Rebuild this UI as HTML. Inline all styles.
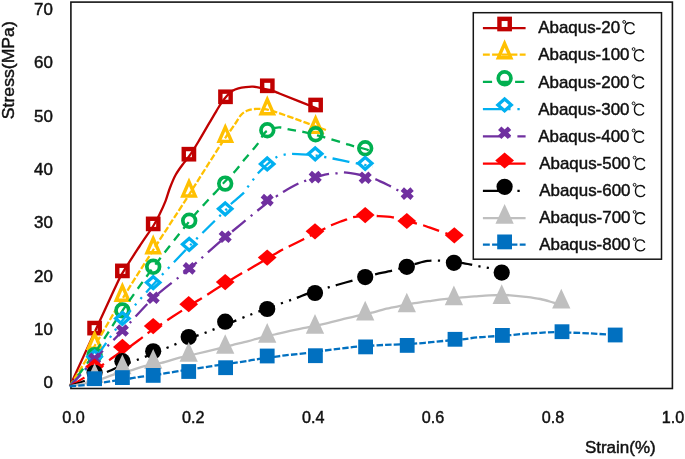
<!DOCTYPE html>
<html><head><meta charset="utf-8"><title>Stress-Strain</title>
<style>html,body{margin:0;padding:0;background:#fff;}body{width:685px;height:459px;overflow:hidden;font-family:"Liberation Sans",sans-serif;}</style></head>
<body>
<div style="will-change:transform;opacity:0.999;filter:blur(0.35px)">
<svg width="685" height="459" viewBox="0 0 685 459" style="display:block;font-family:'Liberation Sans',sans-serif">
<rect width="685" height="459" fill="#fff"/>
<rect x="70.9" y="2.1" width="601.5" height="386.4" fill="none" stroke="#151515" stroke-width="1.6"/>
<path d="M69.85,386.20 C74.12,376.88 88.14,346.33 95.50,330.30 C102.86,314.27 109.52,299.52 114.00,290.00 C118.48,280.48 118.17,280.45 122.40,273.20 C126.63,265.95 134.27,254.37 139.40,246.50 C144.53,238.63 149.83,231.38 153.20,226.00 C156.57,220.62 157.55,218.35 159.60,214.20 C161.65,210.05 163.78,205.47 165.50,201.10 C167.22,196.73 168.20,192.38 169.90,188.00 C171.60,183.62 173.40,178.95 175.70,174.80 C178.00,170.65 181.48,166.15 183.70,163.10 C185.92,160.05 186.58,160.02 189.00,156.50 C191.42,152.98 194.83,147.55 198.20,142.00 C201.57,136.45 206.15,128.40 209.20,123.20 C212.25,118.00 214.43,114.22 216.50,110.80 C218.57,107.38 219.85,105.20 221.60,102.70 C223.35,100.20 225.17,97.78 227.00,95.80 C228.83,93.82 230.70,92.03 232.60,90.80 C234.50,89.57 236.22,89.02 238.40,88.40 C240.58,87.78 243.27,87.38 245.70,87.10 C248.13,86.82 250.57,86.58 253.00,86.70 C255.43,86.82 257.92,87.32 260.30,87.80 C262.68,88.28 264.98,89.00 267.30,89.60 C269.62,90.20 272.08,90.72 274.20,91.40 C276.32,92.08 272.53,90.72 280.00,93.70 C287.47,96.68 312.50,106.70 319.00,109.30" fill="none" stroke="#C00000" stroke-width="2.3"/>
<rect x="89.45" y="322.95" width="10.3" height="10.3" fill="none" stroke="#C00000" stroke-width="4.4"/>
<rect x="117.25" y="265.75" width="10.3" height="10.3" fill="none" stroke="#C00000" stroke-width="4.4"/>
<rect x="148.05" y="218.75" width="10.3" height="10.3" fill="none" stroke="#C00000" stroke-width="4.4"/>
<rect x="183.75" y="149.05" width="10.3" height="10.3" fill="none" stroke="#C00000" stroke-width="4.4"/>
<rect x="220.35" y="91.65" width="10.3" height="10.3" fill="none" stroke="#C00000" stroke-width="4.4"/>
<rect x="262.15" y="80.65" width="10.3" height="10.3" fill="none" stroke="#C00000" stroke-width="4.4"/>
<rect x="310.45" y="99.85" width="10.3" height="10.3" fill="none" stroke="#C00000" stroke-width="4.4"/>
<path d="M69.85,386.20 C73.97,379.50 85.84,360.57 94.60,346.00 C103.36,331.43 112.63,314.80 122.40,298.80 C132.17,282.80 142.62,266.53 153.20,250.00 C163.78,233.47 177.53,212.62 185.90,199.60 C194.27,186.58 197.33,181.45 203.40,171.90 C209.47,162.35 217.08,150.20 222.30,142.30 C227.52,134.40 231.58,129.05 234.70,124.50 C237.82,119.95 238.95,117.28 241.00,115.00 C243.05,112.72 244.67,111.80 247.00,110.80 C249.33,109.80 251.57,109.18 255.00,109.00 C258.43,108.82 261.93,108.43 267.60,109.70 C273.27,110.97 279.12,113.15 289.00,116.60 C298.88,120.05 320.58,128.10 326.90,130.40" fill="none" stroke="#FFC000" stroke-width="2.3" stroke-dasharray="6.45,2.15"/>
<polygon points="94.60,333.95 88.35,348.20 100.85,348.20" fill="none" stroke="#FFC000" stroke-width="3.4" stroke-linejoin="miter" stroke-miterlimit="10"/>
<polygon points="122.40,285.95 116.15,300.20 128.65,300.20" fill="none" stroke="#FFC000" stroke-width="3.4" stroke-linejoin="miter" stroke-miterlimit="10"/>
<polygon points="153.20,238.55 146.95,252.80 159.45,252.80" fill="none" stroke="#FFC000" stroke-width="3.4" stroke-linejoin="miter" stroke-miterlimit="10"/>
<polygon points="189.00,181.75 182.75,196.00 195.25,196.00" fill="none" stroke="#FFC000" stroke-width="3.4" stroke-linejoin="miter" stroke-miterlimit="10"/>
<polygon points="225.30,127.15 219.05,141.40 231.55,141.40" fill="none" stroke="#FFC000" stroke-width="3.4" stroke-linejoin="miter" stroke-miterlimit="10"/>
<polygon points="267.30,99.45 261.05,113.70 273.55,113.70" fill="none" stroke="#FFC000" stroke-width="3.4" stroke-linejoin="miter" stroke-miterlimit="10"/>
<polygon points="315.60,118.15 309.35,132.40 321.85,132.40" fill="none" stroke="#FFC000" stroke-width="3.4" stroke-linejoin="miter" stroke-miterlimit="10"/>
<path d="M69.85,386.20 C73.97,380.68 85.84,365.67 94.60,353.10 C103.36,340.53 112.63,325.07 122.40,310.80 C132.17,296.53 142.07,282.38 153.20,267.50 C164.33,252.62 180.35,232.42 189.20,221.50 C198.05,210.58 201.75,207.05 206.30,202.00 C210.85,196.95 213.47,194.53 216.50,191.20 C219.53,187.87 221.33,185.40 224.50,182.00 C227.67,178.60 232.22,174.50 235.50,170.80 C238.78,167.10 241.28,163.33 244.20,159.80 C247.12,156.27 250.57,152.52 253.00,149.60 C255.43,146.68 257.10,144.77 258.80,142.30 C260.50,139.83 261.77,136.75 263.20,134.80 C264.63,132.85 265.37,131.77 267.40,130.60 C269.43,129.43 273.13,128.32 275.40,127.80 C277.67,127.28 278.98,127.30 281.00,127.50 C283.02,127.70 284.83,128.43 287.50,129.00 C290.17,129.57 293.83,130.30 297.00,130.90 C300.17,131.50 301.88,131.52 306.50,132.60 C311.12,133.68 318.62,135.70 324.70,137.40 C330.78,139.10 338.00,141.28 343.00,142.80 C348.00,144.32 351.05,145.47 354.70,146.50 C358.35,147.53 362.35,148.27 364.90,149.00 C367.45,149.73 369.15,150.58 370.00,150.90" fill="none" stroke="#00B050" stroke-width="2.3" stroke-dasharray="8.6,6.45" stroke-dashoffset="1.61"/>
<circle cx="94.60" cy="355.10" r="6.35" fill="none" stroke="#00B050" stroke-width="3.7"/>
<circle cx="122.40" cy="310.40" r="6.35" fill="none" stroke="#00B050" stroke-width="3.7"/>
<circle cx="153.20" cy="266.80" r="6.35" fill="none" stroke="#00B050" stroke-width="3.7"/>
<circle cx="189.20" cy="220.80" r="6.35" fill="none" stroke="#00B050" stroke-width="3.7"/>
<circle cx="225.20" cy="183.60" r="6.35" fill="none" stroke="#00B050" stroke-width="3.7"/>
<circle cx="267.30" cy="130.30" r="6.35" fill="none" stroke="#00B050" stroke-width="3.7"/>
<circle cx="315.60" cy="134.20" r="6.35" fill="none" stroke="#00B050" stroke-width="3.7"/>
<circle cx="365.20" cy="148.30" r="6.35" fill="none" stroke="#00B050" stroke-width="3.7"/>
<path d="M69.85,386.20 C73.97,381.63 85.84,369.75 94.60,358.80 C103.36,347.85 112.63,332.87 122.40,320.50 C132.17,308.13 142.07,296.97 153.20,284.60 C164.33,272.23 177.20,258.65 189.20,246.30 C201.20,233.95 218.15,217.63 225.20,210.50 C232.25,203.37 228.38,206.48 231.50,203.50 C234.62,200.52 241.12,195.45 243.90,192.60 C246.68,189.75 246.62,188.60 248.20,186.40 C249.78,184.20 251.68,181.67 253.40,179.40 C255.12,177.13 256.68,174.87 258.50,172.80 C260.32,170.73 262.37,168.82 264.30,167.00 C266.23,165.18 268.08,163.53 270.10,161.90 C272.12,160.27 274.00,158.42 276.40,157.20 C278.80,155.98 281.90,155.15 284.50,154.60 C287.10,154.05 288.18,153.90 292.00,153.90 C295.82,153.90 303.55,154.37 307.40,154.60 C311.25,154.83 312.22,154.90 315.10,155.30 C317.98,155.70 321.75,156.47 324.70,157.00 C327.65,157.53 328.78,157.70 332.80,158.50 C336.82,159.30 343.45,160.72 348.80,161.80 C354.15,162.88 360.90,164.18 364.90,165.00 C368.90,165.82 371.48,166.42 372.80,166.70" fill="none" stroke="#00B0F0" stroke-width="2.3" stroke-dasharray="17.2,6.45,2.15,6.45,2.15,6.45" stroke-dashoffset="1.40"/>
<polygon points="94.60,350.90 101.30,356.80 94.60,362.70 87.90,356.80" fill="none" stroke="#00B0F0" stroke-width="3.3"/>
<polygon points="122.40,312.60 129.10,318.50 122.40,324.40 115.70,318.50" fill="none" stroke="#00B0F0" stroke-width="3.3"/>
<polygon points="153.20,276.70 159.90,282.60 153.20,288.50 146.50,282.60" fill="none" stroke="#00B0F0" stroke-width="3.3"/>
<polygon points="189.20,238.40 195.90,244.30 189.20,250.20 182.50,244.30" fill="none" stroke="#00B0F0" stroke-width="3.3"/>
<polygon points="225.20,202.90 231.90,208.80 225.20,214.70 218.50,208.80" fill="none" stroke="#00B0F0" stroke-width="3.3"/>
<polygon points="267.20,158.00 273.90,163.90 267.20,169.80 260.50,163.90" fill="none" stroke="#00B0F0" stroke-width="3.3"/>
<polygon points="315.20,147.90 321.90,153.80 315.20,159.70 308.50,153.80" fill="none" stroke="#00B0F0" stroke-width="3.3"/>
<polygon points="365.20,157.40 371.90,163.30 365.20,169.20 358.50,163.30" fill="none" stroke="#00B0F0" stroke-width="3.3"/>
<path d="M69.85,386.20 C73.97,381.72 85.84,368.50 94.60,359.30 C103.36,350.10 112.63,341.18 122.40,331.00 C132.17,320.82 142.07,308.55 153.20,298.20 C164.33,287.85 177.20,279.05 189.20,268.90 C201.20,258.75 212.20,248.32 225.20,237.30 C238.20,226.28 258.57,209.70 267.20,202.80 C275.83,195.90 274.20,197.80 277.00,195.90 C279.80,194.00 280.52,193.42 284.00,191.40 C287.48,189.38 294.37,185.55 297.90,183.80 C301.43,182.05 302.33,181.93 305.20,180.90 C308.07,179.87 312.55,178.45 315.10,177.60 C317.65,176.75 318.13,176.42 320.50,175.80 C322.87,175.18 326.70,174.32 329.30,173.90 C331.90,173.48 333.67,173.55 336.10,173.30 C338.53,173.05 339.80,172.12 343.90,172.40 C348.00,172.68 357.18,174.33 360.70,175.00 C364.22,175.67 362.57,175.72 365.00,176.40 C367.43,177.08 371.03,177.43 375.30,179.10 C379.57,180.77 386.95,184.60 390.60,186.40 C394.25,188.20 394.45,188.47 397.20,189.90 C399.95,191.33 405.45,194.15 407.10,195.00" fill="none" stroke="#7030A0" stroke-width="2.3" stroke-dasharray="17.2,6.45,2.15,6.45" stroke-dashoffset="0.94"/>
<path d="M89.70,354.30 L99.50,363.30 M99.50,354.30 L89.70,363.30" stroke="#7030A0" stroke-width="4.9" fill="none"/>
<path d="M117.50,326.00 L127.30,335.00 M127.30,326.00 L117.50,335.00" stroke="#7030A0" stroke-width="4.9" fill="none"/>
<path d="M148.30,293.20 L158.10,302.20 M158.10,293.20 L148.30,302.20" stroke="#7030A0" stroke-width="4.9" fill="none"/>
<path d="M184.30,263.90 L194.10,272.90 M194.10,263.90 L184.30,272.90" stroke="#7030A0" stroke-width="4.9" fill="none"/>
<path d="M220.30,232.30 L230.10,241.30 M230.10,232.30 L220.30,241.30" stroke="#7030A0" stroke-width="4.9" fill="none"/>
<path d="M262.30,195.60 L272.10,204.60 M272.10,195.60 L262.30,204.60" stroke="#7030A0" stroke-width="4.9" fill="none"/>
<path d="M310.30,172.60 L320.10,181.60 M320.10,172.60 L310.30,181.60" stroke="#7030A0" stroke-width="4.9" fill="none"/>
<path d="M360.30,173.20 L370.10,182.20 M370.10,173.20 L360.30,182.20" stroke="#7030A0" stroke-width="4.9" fill="none"/>
<path d="M402.30,189.10 L412.10,198.10 M412.10,189.10 L402.30,198.10" stroke="#7030A0" stroke-width="4.9" fill="none"/>
<path d="M69.85,386.10 C72.27,384.68 80.30,380.18 84.40,377.60 C88.50,375.02 90.30,373.52 94.45,370.60 C98.60,367.68 105.29,362.95 109.30,360.10 C113.31,357.25 115.05,355.77 118.50,353.50 C121.95,351.23 126.02,349.18 130.00,346.50 C133.98,343.82 138.53,340.25 142.40,337.40 C146.27,334.55 144.78,335.03 153.20,329.40 C161.62,323.77 184.82,308.80 192.90,303.60 C200.98,298.40 196.35,301.57 201.70,298.20 C207.05,294.83 218.32,287.57 225.00,283.40 C231.68,279.23 237.97,275.45 241.80,273.20 C245.63,270.95 243.80,272.32 248.00,269.90 C252.20,267.48 261.28,262.07 267.00,258.70 C272.72,255.33 278.65,251.73 282.30,249.70 C285.95,247.67 285.37,248.25 288.90,246.50 C292.43,244.75 299.17,241.37 303.50,239.20 C307.83,237.03 311.50,235.20 314.90,233.50 C318.30,231.80 321.18,230.37 323.90,229.00 C326.62,227.63 328.52,226.52 331.20,225.30 C333.88,224.08 337.52,222.65 340.00,221.70 C342.48,220.75 344.00,220.33 346.10,219.60 C348.20,218.87 349.50,217.93 352.60,217.30 C355.70,216.67 360.73,216.02 364.70,215.80 C368.67,215.58 371.72,215.75 376.40,216.00 C381.08,216.25 387.68,216.46 392.80,217.30 C397.92,218.14 402.18,219.77 407.10,221.05 C412.02,222.33 418.48,223.89 422.30,225.00 C426.12,226.11 424.67,225.82 430.00,227.70 C435.33,229.58 450.25,234.87 454.30,236.30" fill="none" stroke="#FF0000" stroke-width="2.3" stroke-dasharray="17.2,6.45" stroke-dashoffset="0.33"/>
<polygon points="94.60,358.40 104.00,366.50 94.60,374.60 85.20,366.50" fill="#FF0000"/>
<polygon points="122.40,338.80 131.80,346.90 122.40,355.00 113.00,346.90" fill="#FF0000"/>
<polygon points="153.20,318.00 162.60,326.10 153.20,334.20 143.80,326.10" fill="#FF0000"/>
<polygon points="188.70,296.10 198.10,304.20 188.70,312.30 179.30,304.20" fill="#FF0000"/>
<polygon points="225.20,274.00 234.60,282.10 225.20,290.20 215.80,282.10" fill="#FF0000"/>
<polygon points="267.20,249.50 276.60,257.60 267.20,265.70 257.80,257.60" fill="#FF0000"/>
<polygon points="315.00,223.20 324.40,231.30 315.00,239.40 305.60,231.30" fill="#FF0000"/>
<polygon points="365.20,207.00 374.60,215.10 365.20,223.20 355.80,215.10" fill="#FF0000"/>
<polygon points="406.80,212.90 416.20,221.00 406.80,229.10 397.40,221.00" fill="#FF0000"/>
<polygon points="454.30,227.20 463.70,235.30 454.30,243.40 444.90,235.30" fill="#FF0000"/>
<path d="M69.85,386.10 C72.42,385.18 78.94,383.03 85.30,380.60 C91.66,378.17 101.95,374.00 108.00,371.50 C114.05,369.00 116.52,367.62 121.60,365.60 C126.68,363.58 133.23,361.42 138.50,359.40 C143.77,357.38 148.20,355.53 153.20,353.50 C158.20,351.47 162.62,349.65 168.50,347.20 C174.38,344.75 182.18,341.28 188.50,338.80 C194.82,336.32 200.32,334.60 206.40,332.30 C212.48,330.00 218.65,327.55 225.00,325.00 C231.35,322.45 237.52,319.75 244.50,317.00 C251.48,314.25 259.23,311.32 266.90,308.50 C274.57,305.68 285.30,301.95 290.50,300.10 C295.70,298.25 295.37,298.45 298.10,297.40 C300.83,296.35 304.10,294.83 306.90,293.80 C309.70,292.77 311.18,292.30 314.90,291.20 C318.62,290.10 325.55,288.23 329.20,287.20 C332.85,286.17 332.85,286.13 336.80,285.00 C340.75,283.87 348.22,281.75 352.90,280.40 C357.58,279.05 361.02,277.95 364.90,276.90 C368.78,275.85 371.60,275.17 376.20,274.10 C380.80,273.03 387.40,271.77 392.50,270.50 C397.60,269.23 402.97,267.60 406.80,266.50 C410.63,265.40 412.03,264.83 415.50,263.90 C418.97,262.97 423.58,261.43 427.60,260.90 C431.62,260.37 435.22,260.52 439.60,260.70 C443.98,260.88 450.25,261.65 453.90,262.00 C457.55,262.35 458.58,262.37 461.50,262.80 C464.42,263.23 468.43,264.02 471.40,264.60 C474.37,265.18 476.53,265.77 479.30,266.30 C482.07,266.83 484.27,267.10 488.00,267.80 C491.73,268.50 499.42,270.05 501.70,270.50" fill="none" stroke="#000000" stroke-width="2.3" stroke-dasharray="17.2,6.45,2.15,6.45,2.15,6.45" stroke-dashoffset="1.3"/>
<circle cx="94.60" cy="372.80" r="8.1" fill="#000000"/>
<circle cx="122.40" cy="361.20" r="8.1" fill="#000000"/>
<circle cx="153.20" cy="351.30" r="8.1" fill="#000000"/>
<circle cx="188.70" cy="337.00" r="8.1" fill="#000000"/>
<circle cx="225.20" cy="321.70" r="8.1" fill="#000000"/>
<circle cx="267.20" cy="309.00" r="8.1" fill="#000000"/>
<circle cx="315.00" cy="293.00" r="8.1" fill="#000000"/>
<circle cx="365.20" cy="277.10" r="8.1" fill="#000000"/>
<circle cx="406.80" cy="266.80" r="8.1" fill="#000000"/>
<circle cx="453.90" cy="262.80" r="8.1" fill="#000000"/>
<circle cx="501.70" cy="272.60" r="8.1" fill="#000000"/>
<path d="M69.85,386.10 C73.99,385.33 89.33,382.70 94.67,381.50 C100.01,380.30 98.43,380.13 101.90,378.90 C105.37,377.67 110.80,375.48 115.50,374.10 C120.20,372.72 125.28,371.93 130.10,370.60 C134.92,369.27 139.20,367.38 144.40,366.10 C149.60,364.82 155.43,364.32 161.30,362.90 C167.17,361.48 173.85,359.08 179.60,357.60 C185.35,356.12 189.68,355.42 195.80,354.00 C201.92,352.58 210.22,350.58 216.30,349.10 C222.38,347.62 226.95,346.43 232.30,345.10 C237.65,343.77 243.77,342.32 248.40,341.10 C253.03,339.88 255.72,338.90 260.10,337.80 C264.48,336.70 269.72,335.67 274.70,334.50 C279.68,333.33 284.73,331.93 290.00,330.80 C295.27,329.67 300.78,328.82 306.30,327.70 C311.82,326.58 317.27,325.43 323.10,324.10 C328.93,322.77 335.83,321.03 341.30,319.70 C346.77,318.37 350.55,317.32 355.90,316.10 C361.25,314.88 368.62,313.57 373.40,312.40 C378.18,311.23 380.30,310.13 384.60,309.10 C388.90,308.07 394.22,307.18 399.20,306.20 C404.18,305.22 409.15,304.10 414.50,303.20 C419.85,302.30 425.95,301.52 431.30,300.80 C436.65,300.08 441.48,299.47 446.60,298.90 C451.72,298.33 457.33,297.82 462.00,297.40 C466.67,296.98 470.07,296.75 474.60,296.40 C479.13,296.05 484.65,295.53 489.20,295.30 C493.75,295.07 498.37,295.00 501.90,295.00 C505.43,295.00 506.43,295.00 510.40,295.30 C514.37,295.60 520.72,296.18 525.70,296.80 C530.68,297.42 535.68,298.03 540.30,299.00 C544.92,299.97 549.90,301.60 553.40,302.60 C556.90,303.60 559.98,304.60 561.30,305.00" fill="none" stroke="#BFBFBF" stroke-width="2.3"/>
<polygon points="94.60,363.35 85.45,383.05 103.75,383.05" fill="#BFBFBF"/>
<polygon points="122.40,354.55 113.25,374.25 131.55,374.25" fill="#BFBFBF"/>
<polygon points="153.20,348.95 144.05,368.65 162.35,368.65" fill="#BFBFBF"/>
<polygon points="188.70,341.95 179.55,361.65 197.85,361.65" fill="#BFBFBF"/>
<polygon points="225.20,334.15 216.05,353.85 234.35,353.85" fill="#BFBFBF"/>
<polygon points="267.20,323.05 258.05,342.75 276.35,342.75" fill="#BFBFBF"/>
<polygon points="315.00,314.05 305.85,333.75 324.15,333.75" fill="#BFBFBF"/>
<polygon points="365.20,300.75 356.05,320.45 374.35,320.45" fill="#BFBFBF"/>
<polygon points="406.80,292.65 397.65,312.35 415.95,312.35" fill="#BFBFBF"/>
<polygon points="453.90,285.45 444.75,305.15 463.05,305.15" fill="#BFBFBF"/>
<polygon points="501.70,284.35 492.55,304.05 510.85,304.05" fill="#BFBFBF"/>
<polygon points="561.30,288.75 552.15,308.45 570.45,308.45" fill="#BFBFBF"/>
<path d="M69.70,386.10 C72.17,385.95 78.92,385.82 84.50,385.20 C90.08,384.58 98.12,383.17 103.20,382.40 C108.28,381.63 110.52,381.25 115.00,380.60 C119.48,379.95 125.93,379.12 130.10,378.50 C134.27,377.88 136.05,377.43 140.00,376.90 C143.95,376.37 150.25,375.78 153.80,375.30 C157.35,374.82 158.30,374.50 161.30,374.00 C164.30,373.50 168.42,372.85 171.80,372.30 C175.18,371.75 178.75,371.13 181.60,370.70 C184.45,370.27 186.28,370.07 188.90,369.70 C191.52,369.33 192.37,369.27 197.30,368.50 C202.23,367.73 212.62,365.98 218.50,365.10 C224.38,364.22 227.62,363.92 232.60,363.20 C237.58,362.48 243.65,361.57 248.40,360.80 C253.15,360.03 256.77,359.27 261.10,358.60 C265.43,357.93 270.42,357.33 274.40,356.80 C278.38,356.27 279.32,356.07 285.00,355.40 C290.68,354.73 302.20,353.57 308.50,352.80 C314.80,352.03 317.33,351.52 322.80,350.80 C328.27,350.08 335.37,349.20 341.30,348.50 C347.23,347.80 351.18,347.20 358.40,346.60 C365.62,346.00 377.63,345.27 384.60,344.90 C391.57,344.53 395.27,344.60 400.20,344.40 C405.13,344.20 409.02,344.07 414.20,343.70 C419.38,343.33 425.65,342.73 431.30,342.20 C436.95,341.67 442.98,340.97 448.10,340.50 C453.22,340.03 457.10,339.92 462.00,339.40 C466.90,338.88 471.92,337.93 477.50,337.40 C483.08,336.87 490.15,336.57 495.50,336.20 C500.85,335.83 504.57,335.62 509.60,335.20 C514.63,334.78 520.58,334.10 525.70,333.70 C530.82,333.30 535.43,333.07 540.30,332.80 C545.17,332.53 550.02,332.13 554.90,332.10 C559.78,332.07 563.68,332.38 569.60,332.60 C575.52,332.82 584.00,333.07 590.40,333.40 C596.80,333.73 603.87,334.33 608.00,334.60 C612.13,334.87 614.00,334.93 615.20,335.00" fill="none" stroke="#0070C0" stroke-width="2.3" stroke-dasharray="6.45,2.15"/>
<rect x="87.20" y="371.30" width="14.8" height="14.8" fill="#0070C0"/>
<rect x="115.00" y="370.20" width="14.8" height="14.8" fill="#0070C0"/>
<rect x="145.80" y="368.00" width="14.8" height="14.8" fill="#0070C0"/>
<rect x="181.30" y="364.10" width="14.8" height="14.8" fill="#0070C0"/>
<rect x="218.20" y="360.30" width="14.8" height="14.8" fill="#0070C0"/>
<rect x="259.80" y="348.60" width="14.8" height="14.8" fill="#0070C0"/>
<rect x="308.00" y="348.30" width="14.8" height="14.8" fill="#0070C0"/>
<rect x="358.20" y="339.50" width="14.8" height="14.8" fill="#0070C0"/>
<rect x="399.80" y="338.00" width="14.8" height="14.8" fill="#0070C0"/>
<rect x="447.60" y="331.90" width="14.8" height="14.8" fill="#0070C0"/>
<rect x="495.00" y="328.00" width="14.8" height="14.8" fill="#0070C0"/>
<rect x="554.60" y="324.30" width="14.8" height="14.8" fill="#0070C0"/>
<rect x="607.80" y="327.60" width="14.8" height="14.8" fill="#0070C0"/>
<text transform="translate(52.8,388.25) scale(1.05,1)" font-size="16.1" text-anchor="end" fill="#111" stroke="#111" stroke-width="0.45">0</text>
<text transform="translate(52.8,334.95) scale(1.05,1)" font-size="16.1" text-anchor="end" fill="#111" stroke="#111" stroke-width="0.45">10</text>
<text transform="translate(52.8,281.65) scale(1.05,1)" font-size="16.1" text-anchor="end" fill="#111" stroke="#111" stroke-width="0.45">20</text>
<text transform="translate(52.8,228.35) scale(1.05,1)" font-size="16.1" text-anchor="end" fill="#111" stroke="#111" stroke-width="0.45">30</text>
<text transform="translate(52.8,175.05) scale(1.05,1)" font-size="16.1" text-anchor="end" fill="#111" stroke="#111" stroke-width="0.45">40</text>
<text transform="translate(52.8,121.75) scale(1.05,1)" font-size="16.1" text-anchor="end" fill="#111" stroke="#111" stroke-width="0.45">50</text>
<text transform="translate(52.8,68.45) scale(1.05,1)" font-size="16.1" text-anchor="end" fill="#111" stroke="#111" stroke-width="0.45">60</text>
<text transform="translate(52.8,15.15) scale(1.05,1)" font-size="16.1" text-anchor="end" fill="#111" stroke="#111" stroke-width="0.45">70</text>
<text transform="translate(73.40,423.35) scale(1.005,1)" font-size="16.1" text-anchor="middle" fill="#111" stroke="#111" stroke-width="0.45">0.0</text>
<text transform="translate(193.30,423.35) scale(1.005,1)" font-size="16.1" text-anchor="middle" fill="#111" stroke="#111" stroke-width="0.45">0.2</text>
<text transform="translate(313.20,423.35) scale(1.005,1)" font-size="16.1" text-anchor="middle" fill="#111" stroke="#111" stroke-width="0.45">0.4</text>
<text transform="translate(433.10,423.35) scale(1.005,1)" font-size="16.1" text-anchor="middle" fill="#111" stroke="#111" stroke-width="0.45">0.6</text>
<text transform="translate(553.00,423.35) scale(1.005,1)" font-size="16.1" text-anchor="middle" fill="#111" stroke="#111" stroke-width="0.45">0.8</text>
<text transform="translate(672.90,423.35) scale(1.005,1)" font-size="16.1" text-anchor="middle" fill="#111" stroke="#111" stroke-width="0.45">1.0</text>
<text transform="translate(620.3,453.2) scale(1.05,1)" font-size="16.2" text-anchor="middle" fill="#111" stroke="#111" stroke-width="0.45">Strain(%)</text>
<text transform="translate(13.9,70.2) rotate(-90) scale(1.05,1)" font-size="16.8" text-anchor="middle" fill="#111" stroke="#111" stroke-width="0.45">Stress(MPa)</text>
<rect x="473.3" y="12.7" width="188.2" height="246.5" fill="#fff" stroke="#151515" stroke-width="1.5"/>
<path d="M482.9,28.15 L525.6,28.15" stroke="#C00000" stroke-width="2.3" fill="none"/>
<rect x="499.45" y="18.85" width="10.3" height="10.3" fill="none" stroke="#C00000" stroke-width="4.4"/>
<text transform="translate(538.3,33.20) scale(1.05,1)" font-size="16.1" fill="#111" stroke="#111" stroke-width="0.45">Abaqus-20</text>
<circle cx="624.18" cy="21.90" r="1.4" fill="none" stroke="#111" stroke-width="1.0"/>
<path d="M634.28,25.50 C632.68,21.70 625.08,21.00 625.08,28.15 C625.08,35.30 632.88,34.60 634.48,31.10" fill="none" stroke="#111" stroke-width="1.4"/>
<path d="M482.9,54.70 L525.6,54.70" stroke="#FFC000" stroke-width="2.3" fill="none" stroke-dasharray="6.9,2.3"/>
<polygon points="504.60,43.55 498.35,57.80 510.85,57.80" fill="none" stroke="#FFC000" stroke-width="3.4" stroke-linejoin="miter" stroke-miterlimit="10"/>
<text transform="translate(538.3,60.35) scale(1.05,1)" font-size="16.1" fill="#111" stroke="#111" stroke-width="0.45">Abaqus-100</text>
<circle cx="633.58" cy="49.05" r="1.4" fill="none" stroke="#111" stroke-width="1.0"/>
<path d="M643.68,52.65 C642.08,48.85 634.48,48.15 634.48,55.30 C634.48,62.45 642.28,61.75 643.88,58.25" fill="none" stroke="#111" stroke-width="1.4"/>
<path d="M482.9,81.80 L525.6,81.80" stroke="#00B050" stroke-width="2.3" fill="none" stroke-dasharray="9.2,6.9"/>
<circle cx="504.60" cy="78.30" r="6.35" fill="none" stroke="#00B050" stroke-width="3.7"/>
<text transform="translate(538.3,87.50) scale(1.05,1)" font-size="16.1" fill="#111" stroke="#111" stroke-width="0.45">Abaqus-200</text>
<circle cx="633.58" cy="76.20" r="1.4" fill="none" stroke="#111" stroke-width="1.0"/>
<path d="M643.68,79.80 C642.08,76.00 634.48,75.30 634.48,82.45 C634.48,89.60 642.28,88.90 643.88,85.40" fill="none" stroke="#111" stroke-width="1.4"/>
<path d="M482.9,109.20 L525.6,109.20" stroke="#00B0F0" stroke-width="2.3" fill="none" stroke-dasharray="18.4,6.9,2.3,6.9,2.3,6.9"/>
<polygon points="504.60,99.00 511.30,104.90 504.60,110.80 497.90,104.90" fill="none" stroke="#00B0F0" stroke-width="3.3"/>
<text transform="translate(538.3,114.65) scale(1.05,1)" font-size="16.1" fill="#111" stroke="#111" stroke-width="0.45">Abaqus-300</text>
<circle cx="633.58" cy="103.35" r="1.4" fill="none" stroke="#111" stroke-width="1.0"/>
<path d="M643.68,106.95 C642.08,103.15 634.48,102.45 634.48,109.60 C634.48,116.75 642.28,116.05 643.88,112.55" fill="none" stroke="#111" stroke-width="1.4"/>
<path d="M482.9,136.40 L525.6,136.40" stroke="#7030A0" stroke-width="2.3" fill="none" stroke-dasharray="18.4,6.9,2.3,6.9"/>
<path d="M499.70,128.20 L509.50,137.20 M509.50,128.20 L499.70,137.20" stroke="#7030A0" stroke-width="4.9" fill="none"/>
<text transform="translate(538.3,141.80) scale(1.05,1)" font-size="16.1" fill="#111" stroke="#111" stroke-width="0.45">Abaqus-400</text>
<circle cx="633.58" cy="130.50" r="1.4" fill="none" stroke="#111" stroke-width="1.0"/>
<path d="M643.68,134.10 C642.08,130.30 634.48,129.60 634.48,136.75 C634.48,143.90 642.28,143.20 643.88,139.70" fill="none" stroke="#111" stroke-width="1.4"/>
<path d="M482.9,163.70 L525.6,163.70" stroke="#FF0000" stroke-width="2.3" fill="none" stroke-dasharray="18.4,6.9"/>
<polygon points="504.60,152.40 514.00,160.50 504.60,168.60 495.20,160.50" fill="#FF0000"/>
<text transform="translate(539.3,168.95) scale(1.05,1)" font-size="16.1" fill="#111" stroke="#111" stroke-width="0.45">Abaqus-500</text>
<circle cx="634.58" cy="157.65" r="1.4" fill="none" stroke="#111" stroke-width="1.0"/>
<path d="M644.68,161.25 C643.08,157.45 635.48,156.75 635.48,163.90 C635.48,171.05 643.28,170.35 644.88,166.85" fill="none" stroke="#111" stroke-width="1.4"/>
<path d="M482.9,190.90 L525.6,190.90" stroke="#000000" stroke-width="2.3" fill="none" stroke-dasharray="18.4,6.9,2.3,6.9,2.3,6.9"/>
<circle cx="504.60" cy="186.85" r="8.1" fill="#000000"/>
<text transform="translate(539.3,196.10) scale(1.05,1)" font-size="16.1" fill="#111" stroke="#111" stroke-width="0.45">Abaqus-600</text>
<circle cx="634.58" cy="184.80" r="1.4" fill="none" stroke="#111" stroke-width="1.0"/>
<path d="M644.68,188.40 C643.08,184.60 635.48,183.90 635.48,191.05 C635.48,198.20 643.28,197.50 644.88,194.00" fill="none" stroke="#111" stroke-width="1.4"/>
<path d="M482.9,218.10 L525.6,218.10" stroke="#BFBFBF" stroke-width="2.3" fill="none"/>
<polygon points="504.60,203.95 495.45,223.65 513.75,223.65" fill="#BFBFBF"/>
<text transform="translate(539.3,223.25) scale(1.05,1)" font-size="16.1" fill="#111" stroke="#111" stroke-width="0.45">Abaqus-700</text>
<circle cx="634.58" cy="211.95" r="1.4" fill="none" stroke="#111" stroke-width="1.0"/>
<path d="M644.68,215.55 C643.08,211.75 635.48,211.05 635.48,218.20 C635.48,225.35 643.28,224.65 644.88,221.15" fill="none" stroke="#111" stroke-width="1.4"/>
<path d="M482.9,244.60 L525.6,244.60" stroke="#0070C0" stroke-width="2.3" fill="none" stroke-dasharray="6.9,2.3"/>
<rect x="497.20" y="234.50" width="14.8" height="14.8" fill="#0070C0"/>
<text transform="translate(539.3,250.40) scale(1.05,1)" font-size="16.1" fill="#111" stroke="#111" stroke-width="0.45">Abaqus-800</text>
<circle cx="634.58" cy="239.10" r="1.4" fill="none" stroke="#111" stroke-width="1.0"/>
<path d="M644.68,242.70 C643.08,238.90 635.48,238.20 635.48,245.35 C635.48,252.50 643.28,251.80 644.88,248.30" fill="none" stroke="#111" stroke-width="1.4"/>
</svg>
</div>
</body></html>
